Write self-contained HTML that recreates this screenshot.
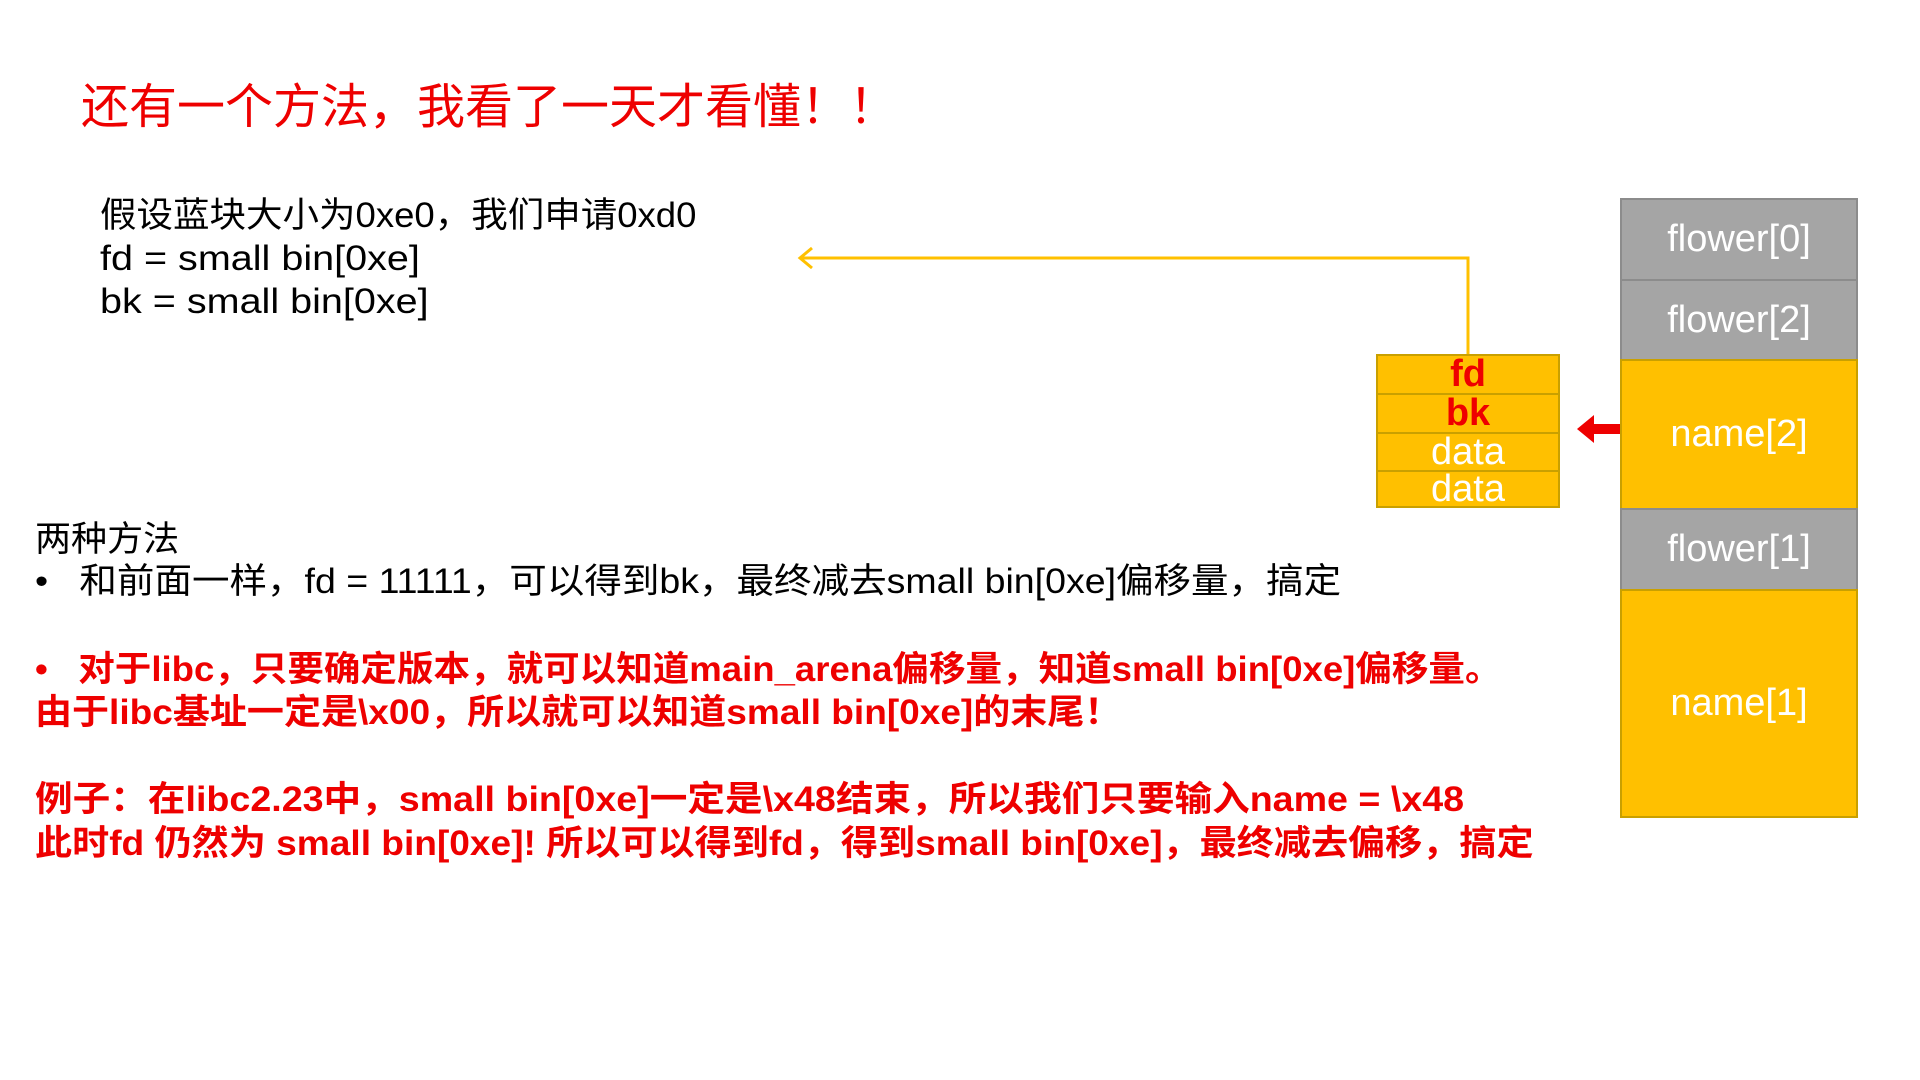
<!DOCTYPE html>
<html><head><meta charset="utf-8"><style>
body{margin:0;width:1920px;height:1080px;background:#fff;position:relative;overflow:hidden;font-family:"Liberation Sans","Noto Sans CJK SC",sans-serif}
.t{position:absolute;white-space:nowrap;line-height:1;transform-origin:0 50%}
.r{color:#e00;font-weight:bold}
.box{position:absolute;box-sizing:border-box;display:flex;align-items:center;justify-content:center;color:#fff;font-size:38px}
.g{background:#a5a5a5;border:2px solid #8c8c8c}
.y{background:#ffc000;border:2px solid #c9a000}
</style></head><body>
<div class="t" style="left:81px;top:84px;font-size:48px;color:#e00">还有一个方法，我看了一天才看懂！！</div>
<div class="t" style="left:100px;top:198px;font-size:35px;transform:scaleX(1.043)">假设蓝块大小为0xe0，我们申请0xd0</div>
<div class="t" style="left:100px;top:241px;font-size:35px;transform:scaleX(1.13)">fd = small bin[0xe]</div>
<div class="t" style="left:100px;top:284px;font-size:35px;transform:scaleX(1.13)">bk = small bin[0xe]</div>

<svg style="position:absolute;left:0;top:0" width="1920" height="1080">
<polyline points="1468,354 1468,258 800,258" fill="none" stroke="#ffc000" stroke-width="3"/>
<polyline points="812,248 800,258 812,268" fill="none" stroke="#ffc000" stroke-width="3"/>
<rect x="1592" y="424" width="28" height="10" fill="#e00"/>
<polygon points="1577,429 1594,415 1594,443" fill="#e00"/>
</svg>

<div class="box y" style="left:1376px;top:354px;width:184px;height:41px;color:#e00;font-weight:bold">fd</div>
<div class="box y" style="left:1376px;top:393px;width:184px;height:41px;color:#e00;font-weight:bold">bk</div>
<div class="box y" style="left:1376px;top:432px;width:184px;height:40px">data</div>
<div class="box y" style="left:1376px;top:470px;width:184px;height:38px">data</div>

<div class="box g" style="left:1620px;top:198px;width:238px;height:83px">flower[0]</div>
<div class="box g" style="left:1620px;top:279px;width:238px;height:82px">flower[2]</div>
<div class="box y" style="left:1620px;top:359px;width:238px;height:151px">name[2]</div>
<div class="box g" style="left:1620px;top:508px;width:238px;height:83px">flower[1]</div>
<div class="box y" style="left:1620px;top:589px;width:238px;height:229px">name[1]</div>

<div class="t" style="left:35px;top:522px;font-size:35px;transform:scaleX(1.03)">两种方法</div>
<div class="t" style="left:35px;top:564px;font-size:35px;transform:scaleX(1.072)">•&nbsp;&nbsp;&nbsp;和前面一样，fd = 11111，可以得到bk，最终减去small bin[0xe]偏移量，搞定</div>
<div class="t r" style="left:35px;top:652px;font-size:35px;transform:scaleX(1.044)">•&nbsp;&nbsp;&nbsp;对于libc，只要确定版本，就可以知道main_arena偏移量，知道small bin[0xe]偏移量。</div>
<div class="t r" style="left:35px;top:695px;font-size:35px;transform:scaleX(1.058)">由于libc基址一定是\x00，所以就可以知道small bin[0xe]的末尾！</div>
<div class="t r" style="left:35px;top:782px;font-size:35px;transform:scaleX(1.075)">例子：在libc2.23中，small bin[0xe]一定是\x48结束，所以我们只要输入name = \x48</div>
<div class="t r" style="left:35px;top:826px;font-size:35px;transform:scaleX(1.06)">此时fd 仍然为 small bin[0xe]! 所以可以得到fd，得到small bin[0xe]，最终减去偏移，搞定</div>
</body></html>
